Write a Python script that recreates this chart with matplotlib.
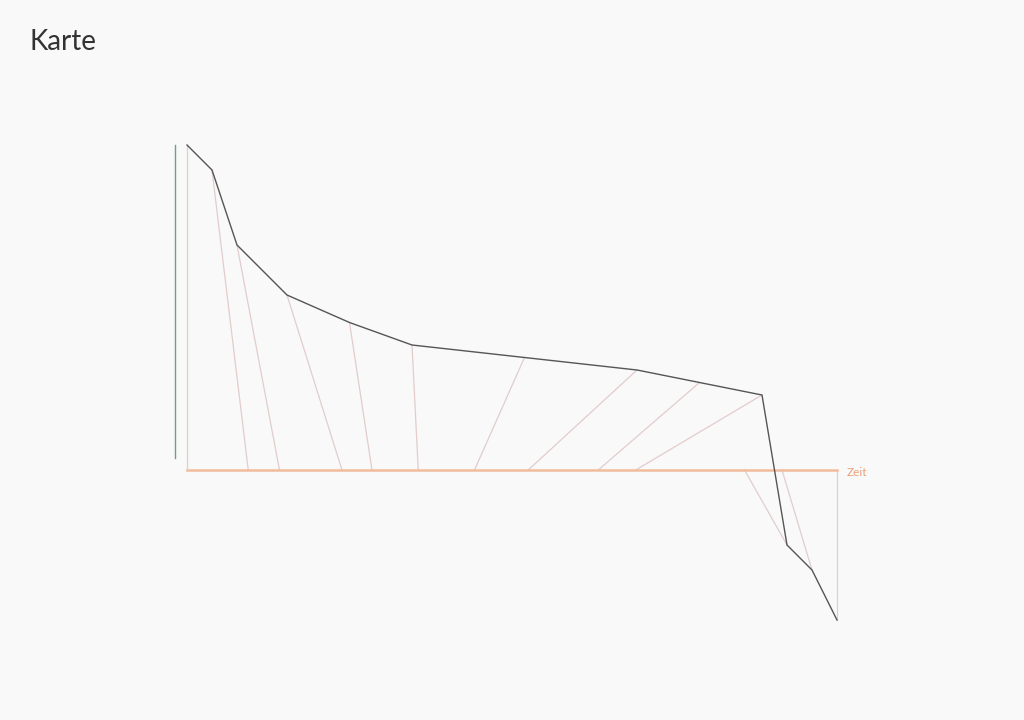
import matplotlib.pyplot as plt

# time positions and values of the curve
zeit = [0, 2, 4, 8, 13, 18, 27, 36, 41, 46, 48, 50, 52]
wert = [13, 12, 9, 7, 5.9, 5, 4.5, 4, 3.5, 3, -3, -4, -6]
# where each point's connector lands on the time axis
basis = [0, 4.9, 7.4, 12.4, 14.8, 18.5, 23.0, 27.3, 32.9, 35.9, 44.6, 47.6, 52]

bg = "#f9f9f9"
fig = plt.figure(figsize=(10.24, 7.2), dpi=100, facecolor=bg)
ax = fig.add_axes([149.5 / 1024, 75 / 720, 725 / 1024, 525 / 720])
ax.set_facecolor(bg)
ax.set_xlim(-3, 55)
ax.set_ylim(-7, 14)

for x, y, b in zip(zeit, wert, basis):
    ax.plot([x, b], [y, 0], color="#e3cccc", lw=0.9, zorder=1)
ax.plot(zeit, wert, color="#555555", lw=1.0, zorder=3)

for s in ["top", "right"]:
    ax.spines[s].set_visible(False)
ax.spines["bottom"].set_position(("data", 0))
ax.spines["bottom"].set_bounds(0, 52)
ax.spines["bottom"].set_color("#f2bc9c")
ax.spines["bottom"].set_linewidth(1.8)
ax.spines["bottom"].set_zorder(2)
ax.spines["left"].set_position(("data", -1))
ax.spines["left"].set_bounds(0.5, 13)
ax.spines["left"].set_color("#6f9f87")
ax.spines["left"].set_linewidth(1)
ax.set_xticks([])
ax.set_yticks([])

ax.text(52.8, -0.1, "Zeit", color="#e9a27c", fontsize=8.5, va="center", ha="left",
        family=["Lato", "DejaVu Sans"])
fig.text(30 / 1024, 1 - 42 / 720, "Karte", color="#333333", fontsize=20,
         va="center", ha="left", family=["Lato", "DejaVu Sans"])

fig.savefig("out.png", dpi=100, facecolor=bg)
